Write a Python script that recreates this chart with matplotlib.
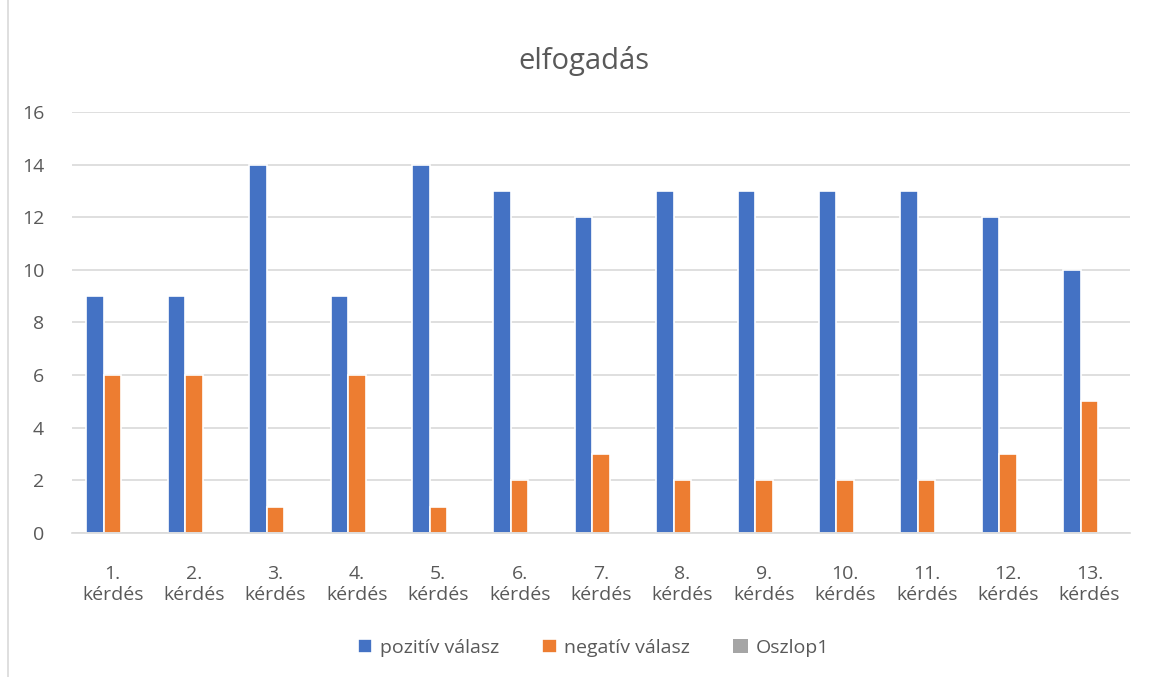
import numpy as np
import matplotlib
matplotlib.use('Agg')
from matplotlib import pyplot as plt
from matplotlib.patches import Rectangle

categories = [f'{i}.\nkérdés' for i in range(1, 14)]
pozitiv = [9, 9, 14, 9, 14, 13, 12, 13, 13, 13, 13, 12, 10]
negativ = [6, 6, 1, 6, 1, 2, 3, 2, 2, 2, 2, 3, 5]
oszlop1 = [0] * 13
series = ['pozitív válasz', 'negatív válasz', 'Oszlop1']
colors = ['#4472C4', '#ED7D31', '#A5A5A5']

plt.rcParams['font.family'] = ['Open Sans', 'DejaVu Sans']
text_color = '#595959'

fig = plt.figure(figsize = (11.52, 6.77), dpi = 100)
ax = fig.add_axes([0.0625, 0.2127, 0.9185, 0.6219])

x = np.arange(len(categories))
w = 0.215
for k, (vals, name, c) in enumerate(zip([pozitiv, negativ, oszlop1], series, colors)):
    lw = 1.2 if any(vals) else 0
    ax.bar(x + (k - 1) * w, vals, width = w, color = c, edgecolor = 'white', linewidth = lw, label = name, zorder = 3)

ax.set_xlim(-0.5, len(categories) - 0.5)
ax.set_ylim(0, 16)
ax.set_yticks(range(0, 17, 2))
ax.set_xticks(x)
ax.set_xticklabels(categories, linespacing = 1.25)
ax.grid(axis = 'y', color = '#D9D9D9', linewidth = 1.2, zorder = 0)
for s in ['top', 'right', 'left']:
    ax.spines[s].set_visible(False)
ax.spines['bottom'].set_color('#D9D9D9')
ax.spines['bottom'].set_linewidth(1.2)
ax.spines['bottom'].set_zorder(4)
ax.tick_params(axis = 'both', length = 0, labelsize = 14, colors = text_color)
ax.tick_params(axis = 'x', pad = 23)
ax.tick_params(axis = 'y', pad = 20)

fig.text(0.507, 0.91, 'elfogadás', ha = 'center', va = 'center', fontsize = 21, color = text_color)

handles, labels = ax.get_legend_handles_labels()
fig.legend(handles, labels, loc = 'center', bbox_to_anchor = (0.515, 0.043), ncol = 3, frameon = False,
           fontsize = 14, labelcolor = text_color, handlelength = 0.75, handleheight = 0.75,
           handletextpad = 0.4, columnspacing = 2.2)

fig.patches.append(Rectangle((8 / 1152, -0.01), 1.1, 1.1, transform = fig.transFigure,
                             fill = False, edgecolor = '#D9D9D9', linewidth = 1.2))

fig.savefig('out.png', dpi = 100)
